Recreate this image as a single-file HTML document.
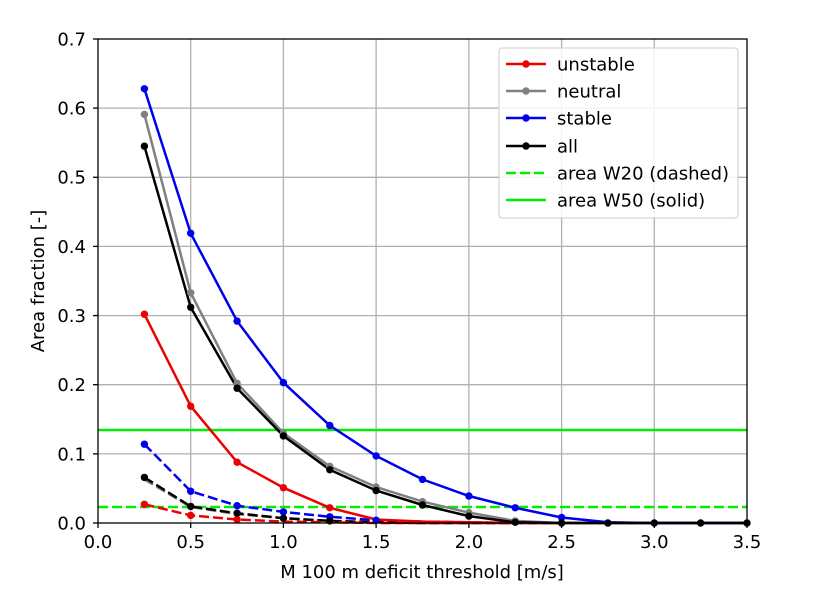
<!DOCTYPE html>
<html><head><style>body{margin:0;background:#fff}svg{display:block;font-family:"DejaVu Sans","Liberation Sans",sans-serif}</style></head><body>
<svg width="828" height="600" viewBox="0 0 828 600" xmlns="http://www.w3.org/2000/svg">
<g stroke="#b0b0b0" stroke-width="1.3">
<line x1="190.7" y1="39" x2="190.7" y2="523"/><line x1="283.4" y1="39" x2="283.4" y2="523"/><line x1="376.1" y1="39" x2="376.1" y2="523"/><line x1="468.9" y1="39" x2="468.9" y2="523"/><line x1="561.6" y1="39" x2="561.6" y2="523"/><line x1="654.3" y1="39" x2="654.3" y2="523"/>
<line x1="98" y1="453.9" x2="747" y2="453.9"/><line x1="98" y1="384.7" x2="747" y2="384.7"/><line x1="98" y1="315.6" x2="747" y2="315.6"/><line x1="98" y1="246.4" x2="747" y2="246.4"/><line x1="98" y1="177.3" x2="747" y2="177.3"/><line x1="98" y1="108.1" x2="747" y2="108.1"/>
</g>
<line x1="98" y1="430" x2="747" y2="430" stroke="#00ee00" stroke-width="2.6"/>
<line x1="98" y1="507" x2="747" y2="507" stroke="#00ee00" stroke-width="2.6" stroke-dasharray="10,4"/>
<g fill="none" stroke-width="2.5" stroke-dasharray="10,4">
<polyline stroke="#808080" points="144.4,479.4 190.7,507 237.1,514 283.4,518.2 329.8,520.9 376.1,522.3 422.5,523 747,523"/>
<polyline stroke="#0000ee" points="144.4,444.2 190.7,491.2 237.1,505.7 283.4,511.9 329.8,516.8 376.1,520.2 422.5,521.6 468.9,522.3 515.2,523 747,523"/>
<polyline stroke="#000" points="144.4,477.4 190.7,506.4 237.1,513.3 283.4,518.2 329.8,520.9 376.1,522.3 422.5,523 747,523"/>
<polyline stroke="#ee0000" points="144.4,504.3 190.7,515.4 237.1,519.5 283.4,521.6 329.8,522.3 376.1,523 747,523"/>
</g>
<g fill="none" stroke-width="2.5">
<polyline stroke="#ee0000" points="144.4,314.2 190.7,406.2 237.1,462.2 283.4,487.7 329.8,507.8 376.1,519.5 422.5,521.6 468.9,522.3 515.2,523 747,523"/>
<polyline stroke="#808080" points="144.4,114.4 190.7,292.8 237.1,383.3 283.4,433.1 329.8,466.3 376.1,487 422.5,501.6 468.9,512.6 515.2,520.9 561.6,523 747,523"/>
<polyline stroke="#0000ee" points="144.4,88.8 190.7,233.3 237.1,321.1 283.4,382.6 329.8,425.5 376.1,455.9 422.5,479.4 468.9,496 515.2,507.8 561.6,517.5 607.9,522.3 654.3,523 747,523"/>
<polyline stroke="#000" points="144.4,146.2 190.7,307.3 237.1,388.2 283.4,435.9 329.8,469.8 376.1,490.5 422.5,505 468.9,516.1 515.2,522.3 561.6,523 747,523"/>
</g>
<g fill="#ee0000"><circle cx="144.4" cy="314.2" r="3.7"/><circle cx="190.7" cy="406.2" r="3.7"/><circle cx="237.1" cy="462.2" r="3.7"/><circle cx="283.4" cy="487.7" r="3.7"/><circle cx="329.8" cy="507.8" r="3.7"/><circle cx="144.4" cy="504.3" r="3.7"/><circle cx="190.7" cy="515.4" r="3.7"/><circle cx="237.1" cy="519.5" r="3.7"/></g>
<g fill="#808080"><circle cx="144.4" cy="114.4" r="3.7"/><circle cx="190.7" cy="292.8" r="3.7"/><circle cx="237.1" cy="383.3" r="3.7"/><circle cx="283.4" cy="433.1" r="3.7"/><circle cx="329.8" cy="466.3" r="3.7"/><circle cx="376.1" cy="487" r="3.7"/><circle cx="422.5" cy="501.6" r="3.7"/><circle cx="468.9" cy="512.6" r="3.7"/><circle cx="515.2" cy="520.9" r="3.7"/></g>
<g fill="#0000ee"><circle cx="144.4" cy="88.8" r="3.7"/><circle cx="190.7" cy="233.3" r="3.7"/><circle cx="237.1" cy="321.1" r="3.7"/><circle cx="283.4" cy="382.6" r="3.7"/><circle cx="329.8" cy="425.5" r="3.7"/><circle cx="376.1" cy="455.9" r="3.7"/><circle cx="422.5" cy="479.4" r="3.7"/><circle cx="468.9" cy="496" r="3.7"/><circle cx="515.2" cy="507.8" r="3.7"/><circle cx="561.6" cy="517.5" r="3.7"/><circle cx="144.4" cy="444.2" r="3.7"/><circle cx="190.7" cy="491.2" r="3.7"/><circle cx="237.1" cy="505.7" r="3.7"/><circle cx="283.4" cy="511.9" r="3.7"/><circle cx="329.8" cy="516.8" r="3.7"/><circle cx="376.1" cy="520.2" r="3.7"/></g>
<g fill="#000"><circle cx="144.4" cy="146.2" r="3.7"/><circle cx="190.7" cy="307.3" r="3.7"/><circle cx="237.1" cy="388.2" r="3.7"/><circle cx="283.4" cy="435.9" r="3.7"/><circle cx="329.8" cy="469.8" r="3.7"/><circle cx="376.1" cy="490.5" r="3.7"/><circle cx="422.5" cy="505" r="3.7"/><circle cx="468.9" cy="516.1" r="3.7"/><circle cx="515.2" cy="522.3" r="3.7"/><circle cx="561.6" cy="523" r="3.7"/><circle cx="607.9" cy="523" r="3.7"/><circle cx="654.3" cy="523" r="3.7"/><circle cx="700.6" cy="523" r="3.7"/><circle cx="747" cy="523" r="3.7"/><circle cx="144.4" cy="477.4" r="3.7"/><circle cx="190.7" cy="506.4" r="3.7"/><circle cx="237.1" cy="513.3" r="3.7"/><circle cx="283.4" cy="518.2" r="3.7"/><circle cx="329.8" cy="520.9" r="3.7"/></g>
<rect x="98" y="39" width="649" height="484" fill="none" stroke="#000" stroke-width="1.3"/>
<g stroke="#000" stroke-width="1.3">
<line x1="98" y1="523" x2="98" y2="528"/><line x1="190.7" y1="523" x2="190.7" y2="528"/><line x1="283.4" y1="523" x2="283.4" y2="528"/><line x1="376.1" y1="523" x2="376.1" y2="528"/><line x1="468.9" y1="523" x2="468.9" y2="528"/><line x1="561.6" y1="523" x2="561.6" y2="528"/><line x1="654.3" y1="523" x2="654.3" y2="528"/><line x1="747" y1="523" x2="747" y2="528"/>
<line x1="93" y1="523" x2="98" y2="523"/><line x1="93" y1="453.9" x2="98" y2="453.9"/><line x1="93" y1="384.7" x2="98" y2="384.7"/><line x1="93" y1="315.6" x2="98" y2="315.6"/><line x1="93" y1="246.4" x2="98" y2="246.4"/><line x1="93" y1="177.3" x2="98" y2="177.3"/><line x1="93" y1="108.1" x2="98" y2="108.1"/><line x1="93" y1="39" x2="98" y2="39"/>
</g>
<g font-size="18" text-anchor="middle" fill="#000">
<text x="98" y="548">0.0</text><text x="190.7" y="548">0.5</text><text x="283.4" y="548">1.0</text><text x="376.1" y="548">1.5</text><text x="468.9" y="548">2.0</text><text x="561.6" y="548">2.5</text><text x="654.3" y="548">3.0</text><text x="747" y="548">3.5</text>
<text x="422" y="578">M 100 m deficit threshold [m/s]</text>
<text transform="translate(44,281) rotate(-90)">Area fraction [-]</text>
</g>
<g font-size="18" text-anchor="end" fill="#000">
<text x="86" y="529.5">0.0</text><text x="86" y="460.5">0.1</text><text x="86" y="391">0.2</text><text x="86" y="322">0.3</text><text x="86" y="253">0.4</text><text x="86" y="183.5">0.5</text><text x="86" y="114.5">0.6</text><text x="86" y="45.5">0.7</text>
</g>
<rect x="499" y="48" width="239" height="170" rx="3" fill="#fff" fill-opacity="0.85" stroke="#ccc"/>
<g stroke-width="2.5">
<line x1="506" y1="64" x2="546" y2="64" stroke="#ee0000"/><circle cx="526" cy="64" r="3.7" fill="#ee0000"/>
<line x1="506" y1="91" x2="546" y2="91" stroke="#808080"/><circle cx="526" cy="91" r="3.7" fill="#808080"/>
<line x1="506" y1="118" x2="546" y2="118" stroke="#0000ee"/><circle cx="526" cy="118" r="3.7" fill="#0000ee"/>
<line x1="506" y1="146" x2="546" y2="146" stroke="#000"/><circle cx="526" cy="146" r="3.7" fill="#000"/>
<line x1="506" y1="173" x2="546" y2="173" stroke="#00ee00" stroke-dasharray="10,4"/>
<line x1="506" y1="200" x2="546" y2="200" stroke="#00ee00"/>
</g>
<g font-size="18" fill="#000">
<text x="557" y="70.5">unstable</text><text x="557" y="97.5">neutral</text><text x="557" y="124.5">stable</text><text x="557" y="152.5">all</text><text x="557" y="179.5">area W20 (dashed)</text><text x="557" y="206.5">area W50 (solid)</text>
</g>
</svg>
</body></html>
